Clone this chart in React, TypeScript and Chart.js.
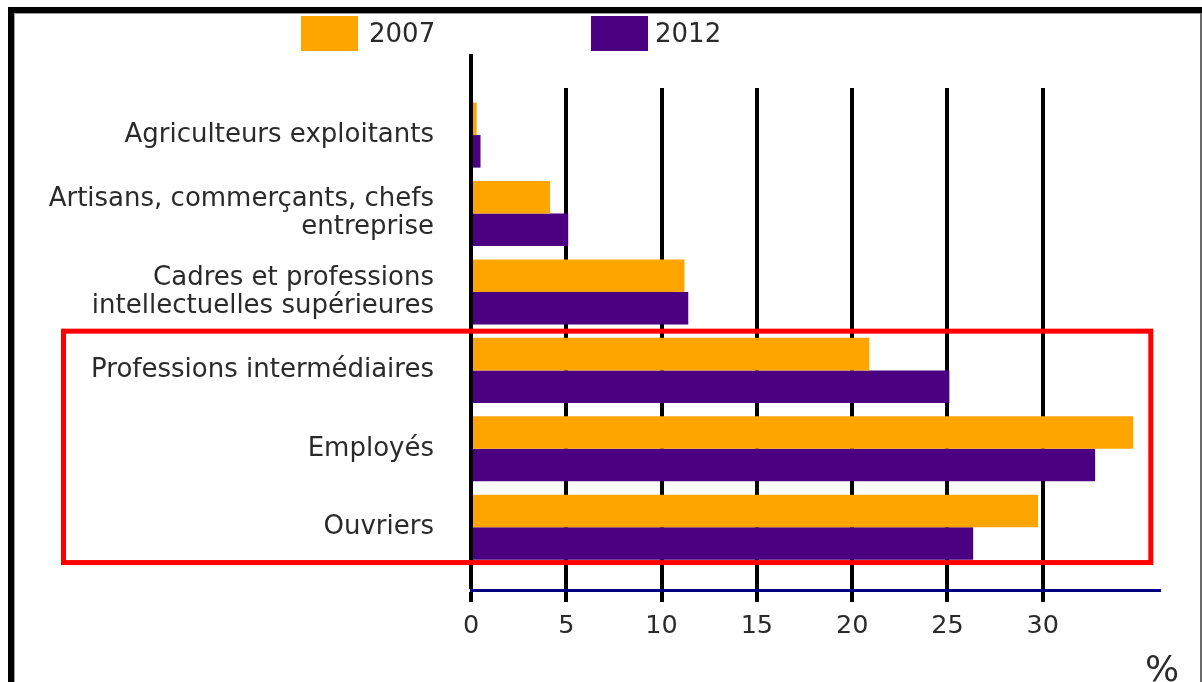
import React, { useEffect, useRef } from 'react';
import { Chart, registerables } from 'chart.js';

Chart.register(...registerables);

const categories: (string | string[])[] = [
  'Agriculteurs exploitants',
  ['Artisans, commerçants, chefs', 'entreprise'],
  ['Cadres et professions', 'intellectuelles supérieures'],
  'Professions intermédiaires',
  'Employés',
  'Ouvriers',
];
const seriesLabels = ['2007', '2012'];
const values2007 = [0.3, 4.15, 11.2, 20.9, 34.75, 29.75];
const values2012 = [0.5, 5.1, 11.4, 25.1, 32.75, 26.35];
const xTickValues = [0, 5, 10, 15, 20, 25, 30];
const seriesColors = ['#FFA500', '#4B0082'];
const unitLabel = '%';

const FONT = "'DejaVu Sans', Verdana, sans-serif";
const TEXT_COLOR = '#2a2a2a';

const framePlugin = {
  id: 'frame',
  beforeDraw(chart: any) {
    const ctx = chart.ctx;
    ctx.save();
    ctx.fillStyle = '#ffffff';
    ctx.fillRect(0, 0, chart.width, chart.height);
    ctx.fillStyle = '#000000';
    ctx.fillRect(8, 7, chart.width - 8, 6);
    ctx.fillRect(8, 7, 6, chart.height - 7);
    ctx.fillStyle = '#9a9a9a';
    ctx.fillRect(14, 13, chart.width - 14, 1);
    ctx.fillRect(14, 13, 1, chart.height - 13);
    ctx.fillStyle = '#6a6a6a';
    ctx.fillRect(chart.width - 2, 13, 2, chart.height - 13);
    ctx.restore();
  },
};

const decorPlugin = {
  id: 'decor',
  afterDraw(chart: any) {
    const ctx = chart.ctx;
    const xs = chart.scales.x;
    const ys = chart.scales.y;
    ctx.save();
    // zero line extension above the plot
    const x0 = xs.getPixelForValue(0);
    ctx.fillStyle = '#000000';
    ctx.fillRect(Math.round(x0) - 2, 54, 4, chart.chartArea.top - 54);

    // legend
    const boxXs = [301, 591];
    const textXs = [369, 655];
    ctx.font = `26px ${FONT}`;
    ctx.textBaseline = 'middle';
    ctx.textAlign = 'left';
    chart.data.datasets.forEach((ds: any, i: number) => {
      ctx.fillStyle = ds.backgroundColor;
      ctx.fillRect(boxXs[i], 16, 57, 35);
      ctx.fillStyle = TEXT_COLOR;
      ctx.fillText(ds.label, textXs[i], 35);
    });

    // highlight box
    const top = ys.getPixelForValue(2.5);
    const bottom = ys.getPixelForValue(5.45);
    const right = xs.getPixelForValue(35.67);
    ctx.strokeStyle = '#FF0000';
    ctx.lineWidth = 5;
    ctx.strokeRect(63.5, top, right - 63.5, bottom - top);

    // unit label
    ctx.fillStyle = TEXT_COLOR;
    ctx.font = `36px ${FONT}`;
    ctx.textAlign = 'left';
    ctx.textBaseline = 'top';
    ctx.fillText(unitLabel, 1145, 654);
    ctx.restore();
  },
};

export default function App() {
  const canvasRef = useRef<HTMLCanvasElement | null>(null);

  useEffect(() => {
    if (!canvasRef.current) return;
    const chart = new Chart(canvasRef.current, {
      type: 'bar',
      data: {
        datasets: [
          {
            label: seriesLabels[0],
            data: values2007.map((v, i) => ({ x: v, y: i })),
            backgroundColor: seriesColors[0],
            borderWidth: 0,
          },
          {
            label: seriesLabels[1],
            data: values2012.map((v, i) => ({ x: v, y: i })),
            backgroundColor: seriesColors[1],
            borderWidth: 0,
          },
        ],
      },
      options: {
        indexAxis: 'y',
        responsive: false,
        animation: false,
        devicePixelRatio: 1,
        layout: { padding: { top: 88, right: 43, bottom: 0, left: 0 } },
        datasets: {
          bar: { categoryPercentage: 0.83, barPercentage: 1.0 },
        },
        plugins: {
          legend: { display: false },
          tooltip: { enabled: false },
        },
        scales: {
          x: {
            type: 'linear',
            position: 'bottom',
            min: 0,
            max: 36.1,
            afterBuildTicks: (scale: any) => {
              scale.ticks = xTickValues.map((v) => ({ value: v }));
            },
            afterFit: (scale: any) => {
              scale.height = 92;
            },
            grid: {
              color: '#000000',
              lineWidth: 4,
              drawTicks: true,
              tickLength: 12,
              tickColor: '#000000',
              tickWidth: 4,
            },
            border: { display: true, color: '#000080', width: 3 },
            ticks: {
              padding: 9,
              color: TEXT_COLOR,
              font: { family: FONT, size: 25.5 },
              autoSkip: false,
              maxRotation: 0,
            },
          },
          y: {
            type: 'linear',
            position: 'left',
            reverse: true,
            offset: false,
            bounds: 'data',
            min: -0.6,
            max: 5.8,
            afterBuildTicks: (scale: any) => {
              scale.ticks = categories.map((_, i) => ({ value: i }));
            },
            afterFit: (scale: any) => {
              scale.width = 471;
            },
            grid: { display: false, drawTicks: false, offset: false },
            border: { display: false },
            ticks: {
              padding: 37,
              color: TEXT_COLOR,
              autoSkip: false,
              font: { family: FONT, size: 26, lineHeight: 1.08 },
              callback: (value: any) => categories[Number(value)] as any,
            },
          },
        },
      } as any,
      plugins: [framePlugin, decorPlugin],
    });
    return () => chart.destroy();
  }, []);

  return (
    <div style={{ position: 'absolute', left: 0, top: 0, width: 1202, height: 682, background: '#fff' }}>
      <canvas ref={canvasRef} width={1202} height={682} style={{ display: 'block', width: 1202, height: 682 }} />
    </div>
  );
}
